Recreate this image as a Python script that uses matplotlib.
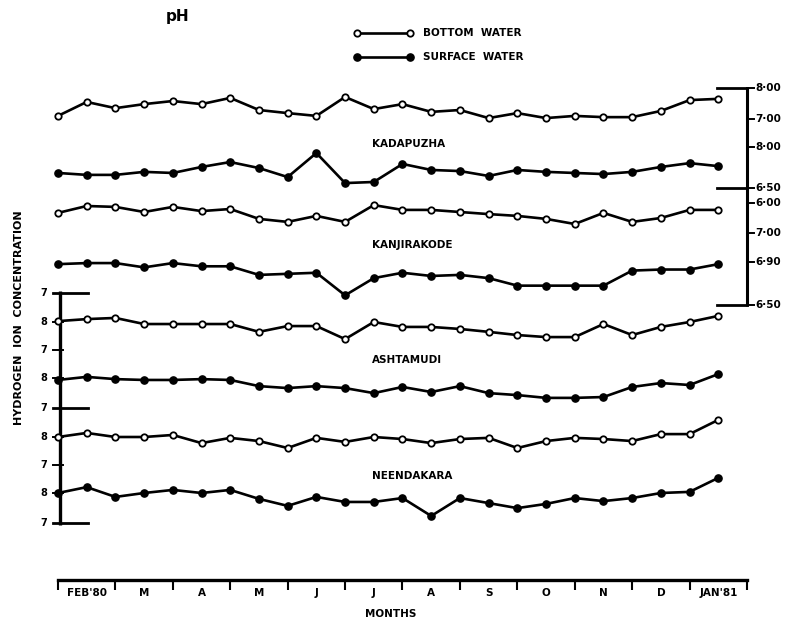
import matplotlib as mpl
mpl.use('Agg')
import matplotlib.pyplot as plt
import numpy as np

# ====== data =================================================================
months = ["FEB'80", 'M', 'A', 'M', 'J', 'J', 'A', 'S', 'O', 'N', 'D', "JAN'81"]
fortnight = np.arange(24)

kadapuzha_bottom = [7.10, 7.55, 7.35, 7.48, 7.58, 7.48, 7.68, 7.29, 7.19, 7.10, 7.71, 7.32,
                    7.48, 7.23, 7.29, 7.03, 7.19, 7.03, 7.10, 7.06, 7.06, 7.26, 7.61, 7.65]
kadapuzha_surface = [7.05, 6.98, 6.98, 7.09, 7.05, 7.27, 7.45, 7.23, 6.90, 7.78, 6.68, 6.72,
                     7.38, 7.16, 7.12, 6.94, 7.16, 7.09, 7.05, 7.01, 7.09, 7.27, 7.41, 7.30]
kanjirakode_bottom = [7.67, 7.90, 7.87, 7.70, 7.87, 7.73, 7.80, 7.47, 7.37, 7.57, 7.37, 7.93,
                      7.77, 7.77, 7.70, 7.63, 7.57, 7.47, 7.30, 7.67, 7.37, 7.50, 7.77, 7.77]
kanjirakode_surface = [6.88, 6.89, 6.89, 6.85, 6.89, 6.86, 6.86, 6.78, 6.79, 6.80, 6.59, 6.75,
                       6.80, 6.77, 6.78, 6.75, 6.68, 6.68, 6.68, 6.68, 6.82, 6.83, 6.83, 6.88]
ashtamudi_bottom = [7.97, 7.90, 7.86, 8.07, 8.07, 8.07, 8.07, 8.34, 8.14, 8.14, 8.59, 8.00,
                    8.17, 8.17, 8.24, 8.34, 8.45, 8.52, 8.52, 8.07, 8.45, 8.17, 8.00, 7.79]
ashtamudi_surface = [8.07, 7.96, 8.04, 8.07, 8.07, 8.04, 8.07, 8.29, 8.36, 8.29, 8.36, 8.54,
                     8.32, 8.50, 8.29, 8.54, 8.61, 8.71, 8.71, 8.68, 8.32, 8.18, 8.25, 7.86]
neendakara_bottom = [8.00, 7.86, 8.00, 8.00, 7.93, 8.21, 8.03, 8.14, 8.38, 8.03, 8.17, 8.00,
                     8.07, 8.21, 8.07, 8.03, 8.38, 8.14, 8.03, 8.07, 8.14, 7.90, 7.90, 7.41]
neendakara_surface = [8.00, 7.79, 8.14, 8.00, 7.89, 8.00, 7.89, 8.21, 8.46, 8.14, 8.32, 8.32,
                      8.18, 8.82, 8.18, 8.36, 8.54, 8.39, 8.18, 8.29, 8.18, 8.00, 7.96, 7.46]

stations = ['KADAPUZHA', 'KANJIRAKODE', 'ASHTAMUDI', 'NEENDAKARA']
right_labels = ['8·00', '7·00', '8·00', '6·50', '6·00', '7·00', '6·90', '6·50']
left_labels = ['7', '8', '7', '8', '7', '8', '7', '8', '7']

# ====== layout (pixel rows / columns on a 794 x 626 sheet) ===================
W, H = 794, 626
X0, X24 = 58, 747          # fortnight 0 and 24 on the sheet

# each trace gets its own strip: (row of lower ref, value, row of upper ref, value)
panels = [
    (kadapuzha_bottom, False, 119, 7.0, 88, 8.0),
    (kadapuzha_surface, True, 188, 6.5, 147, 8.0),
    (kanjirakode_bottom, False, 233, 7.0, 203, 8.0),
    (kanjirakode_surface, True, 305, 6.5, 262, 6.9),
    (ashtamudi_bottom, False, 322, 8.0, 293, 7.0),
    (ashtamudi_surface, True, 378, 8.0, 350, 7.0),
    (neendakara_bottom, False, 437, 8.0, 408, 7.0),
    (neendakara_surface, True, 493, 8.0, 465, 7.0),
]
station_rows = [144, 245, 360, 476]
right_rows = [88, 119, 147, 188, 203, 233, 262, 305]
left_rows = [293, 322, 350, 378, 408, 437, 465, 493, 523]

bold = dict(fontweight='bold', family='DejaVu Sans', color='k')
open_pt = dict(marker='o', ms=4.6, mfc='white', mec='k', mew=1.3)
full_pt = dict(marker='o', ms=5.2, mfc='k', mec='k', mew=1.0)

fig = plt.figure(figsize=(W / 100, H / 100), dpi=100)
fig.patch.set_facecolor('white')

# sheet axes in pixel units for the hand-drawn scales and lettering
frame = fig.add_axes([0, 0, 1, 1])
frame.set_xlim(0, W)
frame.set_ylim(H, 0)
frame.axis('off')


def strip(row_lo, v_lo, row_hi, v_hi):
    ax = fig.add_axes([X0 / W, 1 - row_lo / H, (X24 - X0) / W, (row_lo - row_hi) / H])
    ax.set_xlim(0, 24)
    ax.set_ylim(v_lo, v_hi)
    ax.axis('off')
    return ax


for vals, filled, r_lo, v_lo, r_hi, v_hi in panels:
    ax = strip(r_lo, v_lo, r_hi, v_hi)
    ax.plot(fortnight, vals, '-', color='k', lw=1.9, clip_on=False, zorder=3,
            **(full_pt if filled else open_pt))

# station names
for name, row in zip(stations, station_rows):
    frame.text(372, row, name, ha='left', va='center', fontsize=7.5, **bold)

# left scale
frame.plot([60, 60], [291, 525], color='k', lw=2.4, solid_capstyle='butt')
for i, (row, lab) in enumerate(zip(left_rows, left_labels)):
    x_end = 88 if i in (0, 4, 8) else 63
    frame.plot([53, x_end], [row, row], color='k', lw=2.0 if x_end > 63 else 1.4)
    frame.text(44, row, lab, ha='center', va='center', fontsize=7, **bold)

# right scale
frame.plot([747, 747], [87, 306], color='k', lw=2.2, solid_capstyle='butt')
for i, (row, lab) in enumerate(zip(right_rows, right_labels)):
    frame.plot([747, 754], [row, row], color='k', lw=1.4)
    if i in (0, 3, 7):
        frame.plot([717, 747], [row, row], color='k', lw=2.0)
    frame.text(755, row, lab, ha='left', va='center', fontsize=7.5, **bold)

# month axis
max_ = fig.add_axes([X0 / W, 1 - 580 / H, (X24 - X0) / W, 0.0005])
for s in ('left', 'right', 'top'):
    max_.spines[s].set_visible(False)
max_.spines['bottom'].set_linewidth(2.4)
max_.patch.set_visible(False)
max_.set_xlim(0, 24)
max_.set_yticks([])
max_.set_xticks(np.arange(0, 25, 2))
max_.set_xticklabels([])
max_.tick_params(axis='x', which='major', direction='out', length=7, width=1.5)
max_.set_xticks(fortnight[1::2], minor=True)
max_.set_xticklabels(months, minor=True, fontsize=7.5, fontweight='bold')
max_.tick_params(axis='x', which='minor', length=0, pad=6)
frame.text(391, 614, 'MONTHS', ha='center', va='center', fontsize=7.5, **bold)

# axis titles
frame.text(19, 318, 'HYDROGEN  ION  CONCENTRATION', rotation=90,
           ha='center', va='center', fontsize=8, **bold)
frame.text(178, 17, 'pH', ha='center', va='center', fontsize=11, **bold)

# key
frame.plot([357, 410], [33, 33], '-', color='k', lw=1.9, **open_pt)
frame.plot([357, 410], [57, 57], '-', color='k', lw=1.9, **full_pt)
frame.text(423, 33, 'BOTTOM  WATER', ha='left', va='center', fontsize=7.5, **bold)
frame.text(423, 57, 'SURFACE  WATER', ha='left', va='center', fontsize=7.5, **bold)

fig.savefig('out.png', dpi=100, facecolor='white')
